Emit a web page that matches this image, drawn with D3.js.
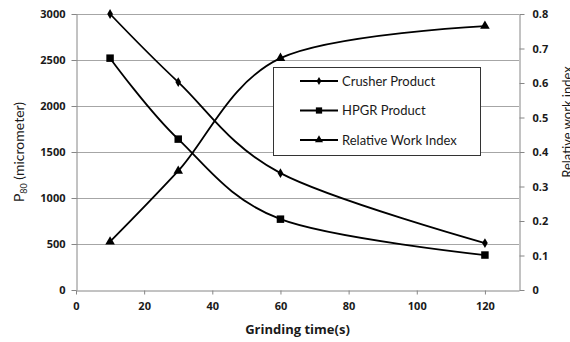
<!DOCTYPE html>
<html>
<head>
<meta charset="utf-8">
<script src="https://cdn.jsdelivr.net/npm/d3@7"></script>
<style>
  body { margin: 0; background: #fff; }
  svg { font-family: Lato, "Open Sans", sans-serif; }
</style>
</head>
<body>
<svg id="chart" width="570" height="342"></svg>
<script>
// grinding times (s)
var times = [10, 30, 60, 120];
// P80 values in micrometer
var crusher = [3000, 2260, 1270, 510];
var hpgr = [2520, 1640, 770, 380];
// relative work index (right axis)
var workIndex = [0.14, 0.345, 0.672, 0.765];

var leftTicks = [0, 500, 1000, 1500, 2000, 2500, 3000];
var rightTicks = [0, 0.1, 0.2, 0.3, 0.4, 0.5, 0.6, 0.7, 0.8];
var xTicks = [0, 20, 40, 60, 80, 100, 120];

var svg = d3.select("#chart");
var plot = { left: 76, right: 519, top: 14, bottom: 290 };

var x = d3.scaleLinear().domain([0, 130]).range([plot.left, plot.right]);
var y = d3.scaleLinear().domain([0, 3000]).range([plot.bottom, plot.top]);
var y2 = d3.scaleLinear().domain([0, 0.8]).range([plot.bottom, plot.top]);

// gridlines
svg.append("g")
    .selectAll("line")
    .data(leftTicks.slice(1))
    .enter()
    .append("line")
    .attr("x1", plot.left)
    .attr("x2", plot.right)
    .attr("y1", function(d) { return y(d) + 0.5; })
    .attr("y2", function(d) { return y(d) + 0.5; })
    .attr("stroke", "#a6a6a6")
    .attr("stroke-width", 1);

function styleAxis(g) {
    g.select(".domain").attr("stroke", "#868686");
    g.selectAll(".tick line").attr("stroke", "#868686");
    g.selectAll(".tick text")
        .attr("fill", "#1a1a1a")
        .style("font-family", "'Open Sans', sans-serif")
        .style("font-size", "11px")
        .style("font-weight", "bold");
}

svg.append("g")
    .attr("transform", "translate(0," + (plot.bottom + 0.5) + ")")
    .call(d3.axisBottom(x).tickValues(xTicks).tickSize(4).tickSizeOuter(0).tickPadding(8))
    .call(styleAxis);

svg.append("g")
    .attr("transform", "translate(" + (plot.left + 0.5) + ",0)")
    .call(d3.axisLeft(y).tickValues(leftTicks).tickSize(5).tickSizeOuter(0).tickPadding(6)
        .tickFormat(d3.format("d")))
    .call(styleAxis);

svg.append("g")
    .attr("transform", "translate(" + (plot.right + 0.5) + ",0)")
    .call(d3.axisRight(y2).tickValues(rightTicks).tickSize(5).tickSizeOuter(0).tickPadding(8)
        .tickFormat(function(d) { return d === 0 ? "0" : d3.format(".1f")(d); }))
    .call(styleAxis);

// axis titles
svg.append("text")
    .attr("x", (plot.left + plot.right) / 2)
    .attr("y", 334)
    .attr("text-anchor", "middle")
    .style("font-family", "'Open Sans', sans-serif")
    .style("font-size", "13px")
    .style("font-weight", "bold")
    .attr("fill", "#1a1a1a")
    .text("Grinding time(s)");

var yTitle = svg.append("text")
    .attr("transform", "translate(24," + 152 + ") rotate(-90)")
    .attr("text-anchor", "middle")
    .style("font-size", "14px")
    .attr("fill", "#1a1a1a");
yTitle.append("tspan").text("P");
yTitle.append("tspan").attr("dy", 3).style("font-size", "9px").text("80");
yTitle.append("tspan").attr("dy", -3).text(" (micrometer)");

svg.append("text")
    .attr("transform", "translate(572,122) rotate(-90)")
    .attr("text-anchor", "middle")
    .style("font-size", "13px")
    .attr("fill", "#1a1a1a")
    .text("Relative work index");

var series = [
    { name: "Crusher Product", values: crusher, scale: y, marker: d3.symbolDiamond, size: 28 },
    { name: "HPGR Product", values: hpgr, scale: y, marker: d3.symbolSquare, size: 56 },
    { name: "Relative Work Index", values: workIndex, scale: y2, marker: d3.symbolTriangle, size: 40 }
];

series.forEach(function(s) {
    var line = d3.line()
        .x(function(d, i) { return x(times[i]); })
        .y(function(d) { return s.scale(d); })
        .curve(d3.curveCatmullRom.alpha(0));

    svg.append("path")
        .datum(s.values)
        .attr("d", line)
        .attr("fill", "none")
        .attr("stroke", "#000")
        .attr("stroke-width", 1.8);

    svg.append("g")
        .selectAll("path")
        .data(s.values)
        .enter()
        .append("path")
        .attr("transform", function(d, i) { return "translate(" + x(times[i]) + "," + s.scale(d) + ")"; })
        .attr("d", d3.symbol().type(s.marker).size(s.size))
        .attr("fill", "#000");
});

// legend
var legend = svg.append("g");
legend.append("rect")
    .attr("x", 273.5)
    .attr("y", 67.5)
    .attr("width", 207)
    .attr("height", 88)
    .attr("fill", "#fff")
    .attr("stroke", "#333")
    .attr("stroke-width", 1);

series.forEach(function(s, i) {
    var ly = 81 + i * 29.5;
    legend.append("line")
        .attr("x1", 300).attr("x2", 338)
        .attr("y1", ly).attr("y2", ly)
        .attr("stroke", "#000")
        .attr("stroke-width", 1.8);
    legend.append("path")
        .attr("transform", "translate(319," + ly + ")")
        .attr("d", d3.symbol().type(s.marker).size(s.size * 0.7))
        .attr("fill", "#000");
    legend.append("text")
        .attr("x", 342)
        .attr("y", ly + 4.5)
        .style("font-size", "13px")
        .attr("fill", "#1a1a1a")
        .text(s.name);
});
</script>
</body>
</html>
